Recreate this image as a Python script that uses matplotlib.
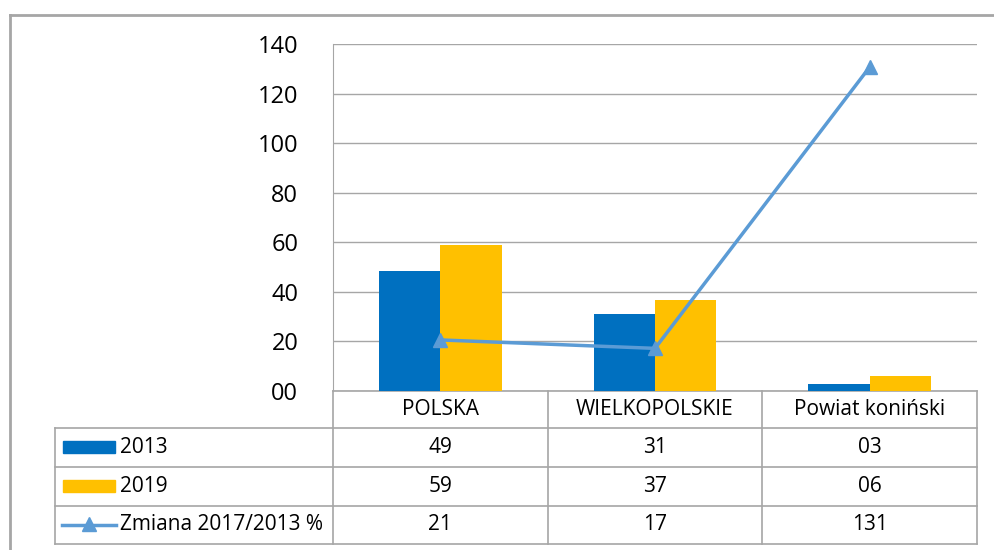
import matplotlib.pyplot as plt
from matplotlib.patches import Rectangle
from matplotlib.lines import Line2D

plt.rcParams['font.family'] = ['Open Sans', 'DejaVu Sans']

categories = ['POLSKA', 'WIELKOPOLSKIE', 'Powiat koniński']
series_names = ['2013', '2019', 'Zmiana 2017/2013 %']
v2013 = [48.6, 31.2, 2.7]
v2019 = [58.9, 36.7, 6.0]
zmiana = [20.6, 17.2, 130.7]
yticks = [0, 20, 40, 60, 80, 100, 120, 140]

c13 = '#0070C0'
c19 = '#FFC000'
cline = '#5B9BD5'
grid = '#A6A6A6'

W, H = 995, 550
fig = plt.figure(figsize=(W / 100, H / 100), dpi=100)

# overlay in pixel coords for frame + data table
ov = fig.add_axes([0, 0, 1, 1])
ov.set_xlim(0, W)
ov.set_ylim(H, 0)
ov.axis('off')

# plot area (pixels)
L, R, T, B = 333, 977, 44, 391
ax = fig.add_axes([L / W, (H - B) / H, (R - L) / W, (B - T) / H])
ax.set_zorder(2)
ax.patch.set_alpha(0)

n = len(categories)
xc = [i + 0.5 for i in range(n)]
bw = 0.285
ax.bar([x - bw / 2 for x in xc], v2013, bw, color=c13, zorder=2)
ax.bar([x + bw / 2 for x in xc], v2019, bw, color=c19, zorder=2)
ax.plot(xc, zmiana, color=cline, lw=2.5, marker='^', ms=10, zorder=3)

ax.set_xlim(0, n)
ax.set_ylim(0, 140)
ax.set_yticks(yticks)
ax.set_yticklabels([f'{t:02d}' for t in yticks], fontsize=17)
ax.set_xticks([])
ax.yaxis.grid(True, color=grid, lw=1)
ax.set_axisbelow(True)
ax.tick_params(axis='y', length=0, pad=25)
for s in ['top', 'right', 'bottom']:
    ax.spines[s].set_visible(False)
ax.spines['left'].set_color(grid)

# outer frame
ov.plot([10, 10], [15, H], color=grid, lw=2)
ov.plot([10, W], [15, 15], color=grid, lw=2)

# data table
cols = [L + (R - L) * i / n for i in range(n + 1)]
rows = [B, 428, 467, 506, 544]
tl = 55
ov.plot([L, R], [B, B], color=grid, lw=1.2)
for y in rows[1:]:
    ov.plot([tl, R], [y, y], color=grid, lw=1.2)
for x in cols:
    ov.plot([x, x], [B, rows[-1]], color=grid, lw=1.2)
ov.plot([tl, tl], [rows[1], rows[-1]], color=grid, lw=1.2)

fs = 15
for i, cat in enumerate(categories):
    ov.text((cols[i] + cols[i + 1]) / 2, (rows[0] + rows[1]) / 2, cat,
            ha='center', va='center', fontsize=fs)
for r, vals in enumerate([v2013, v2019, zmiana]):
    yc = (rows[r + 1] + rows[r + 2]) / 2
    for i, v in enumerate(vals):
        ov.text((cols[i] + cols[i + 1]) / 2, yc, f'{round(v):02d}',
                ha='center', va='center', fontsize=fs)
    ov.text(120, yc, series_names[r], ha='left', va='center', fontsize=fs)

# legend keys
ov.add_patch(Rectangle((63, 441), 52, 12, color=c13))
ov.add_patch(Rectangle((63, 480), 52, 12, color=c19))
y3 = (rows[3] + rows[4]) / 2
ov.add_line(Line2D([62, 116], [y3, y3], color=cline, lw=2.5))
ov.plot([89], [y3 - 1], marker='^', ms=10, color=cline)

fig.savefig('out.png', dpi=100)
